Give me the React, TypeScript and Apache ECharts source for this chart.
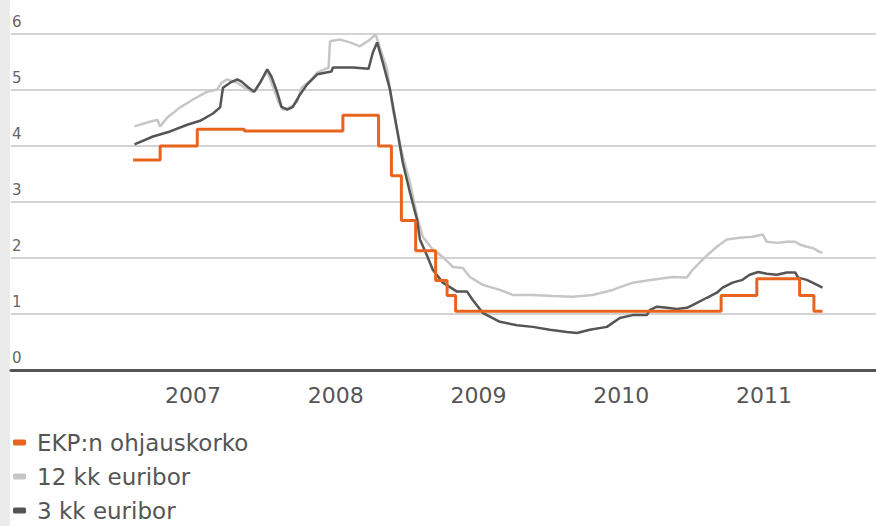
import React, { useEffect, useRef } from "react";
import * as echarts from "echarts";

// Year labels (placed at mid-year)
const years = [2007, 2008, 2009, 2010, 2011];

// ECB policy rate (step changes: date as decimal year, value %)
const ecbDates = [2007.08, 2007.27, 2007.53, 2007.86, 2008.55, 2008.8, 2008.89, 2008.96, 2009.06, 2009.2, 2009.28, 2009.34, 2011.2, 2011.45, 2011.75, 2011.85, 2011.91];
const ecbRates = [3.75, 4.0, 4.3, 4.27, 4.55, 4.0, 3.47, 2.67, 2.13, 1.6, 1.33, 1.05, 1.33, 1.63, 1.33, 1.05, 1.05];

// 12-month euribor
const e12Dates = [2007.09, 2007.18, 2007.25, 2007.27, 2007.32, 2007.41, 2007.5, 2007.6, 2007.67, 2007.7, 2007.74, 2007.81, 2007.88, 2007.92, 2007.97, 2008.02, 2008.06, 2008.1, 2008.13, 2008.18, 2008.23, 2008.26, 2008.33, 2008.37, 2008.45, 2008.46, 2008.53, 2008.6, 2008.67, 2008.74, 2008.78, 2008.86, 2008.9, 2008.97, 2009.02, 2009.07, 2009.11, 2009.18, 2009.25, 2009.32, 2009.39, 2009.44, 2009.53, 2009.65, 2009.74, 2009.88, 2010.02, 2010.16, 2010.3, 2010.44, 2010.58, 2010.72, 2010.86, 2010.96, 2011.0, 2011.07, 2011.12, 2011.17, 2011.24, 2011.33, 2011.42, 2011.49, 2011.52, 2011.59, 2011.66, 2011.72, 2011.75, 2011.8, 2011.84, 2011.89, 2011.91];
const e12Rates = [4.35, 4.42, 4.47, 4.35, 4.51, 4.69, 4.83, 4.97, 5.01, 5.13, 5.19, 5.13, 5.01, 4.96, 5.13, 5.33, 5.06, 4.78, 4.65, 4.69, 4.79, 5.04, 5.19, 5.31, 5.4, 5.87, 5.9, 5.85, 5.78, 5.9, 5.99, 5.37, 4.65, 3.81, 3.35, 2.74, 2.38, 2.15, 2.02, 1.84, 1.82, 1.66, 1.52, 1.43, 1.34, 1.34, 1.32, 1.31, 1.34, 1.43, 1.56, 1.61, 1.66, 1.65, 1.79, 1.97, 2.09, 2.2, 2.33, 2.36, 2.38, 2.42, 2.29, 2.27, 2.29, 2.29, 2.24, 2.2, 2.18, 2.11, 2.09];

// 3-month euribor
const e3Dates = [2007.09, 2007.22, 2007.34, 2007.46, 2007.55, 2007.64, 2007.69, 2007.71, 2007.76, 2007.81, 2007.84, 2007.89, 2007.93, 2007.97, 2008.02, 2008.05, 2008.09, 2008.12, 2008.16, 2008.2, 2008.25, 2008.3, 2008.37, 2008.47, 2008.48, 2008.62, 2008.73, 2008.76, 2008.79, 2008.83, 2008.88, 2008.93, 2008.97, 2009.02, 2009.07, 2009.09, 2009.14, 2009.18, 2009.25, 2009.35, 2009.42, 2009.46, 2009.53, 2009.65, 2009.77, 2009.88, 2010.0, 2010.12, 2010.19, 2010.28, 2010.4, 2010.49, 2010.58, 2010.68, 2010.7, 2010.75, 2010.82, 2010.89, 2010.96, 2011.0, 2011.1, 2011.17, 2011.21, 2011.28, 2011.35, 2011.4, 2011.46, 2011.52, 2011.59, 2011.66, 2011.72, 2011.74, 2011.8, 2011.84, 2011.91];
const e3Rates = [4.03, 4.17, 4.26, 4.38, 4.45, 4.58, 4.69, 5.04, 5.13, 5.19, 5.15, 5.04, 4.97, 5.13, 5.37, 5.24, 4.96, 4.7, 4.65, 4.7, 4.92, 5.1, 5.28, 5.33, 5.4, 5.4, 5.38, 5.67, 5.85, 5.49, 5.01, 4.29, 3.7, 3.17, 2.68, 2.33, 2.04, 1.79, 1.56, 1.4, 1.4, 1.25, 1.02, 0.86, 0.8, 0.77, 0.72, 0.68, 0.66, 0.72, 0.77, 0.93, 0.98, 0.98, 1.07, 1.13, 1.11, 1.09, 1.11, 1.16, 1.29, 1.38, 1.47, 1.56, 1.61, 1.7, 1.75, 1.72, 1.7, 1.74, 1.74, 1.65, 1.61, 1.56, 1.47];

const seriesNames = ["EKP:n ohjauskorko", "12 kk euribor", "3 kk euribor"];

const zip = (xs: number[], ys: number[]) => xs.map((x, i) => [x, ys[i]]);

const FONT = "DejaVu Sans";

export default function App() {
  const ref = useRef<HTMLDivElement>(null);
  useEffect(() => {
    document.body.style.margin = "0";
    if (!ref.current) return;
    const chart = echarts.init(ref.current, null, { renderer: "svg" });
    chart.setOption({
      animation: false,
      backgroundColor: "#ffffff",
      graphic: [
        {
          type: "rect",
          left: 0,
          top: 0,
          shape: { width: 10, height: 526 },
          style: { fill: "#ebebeb" },
          z: -10,
        },
      ],
      grid: { left: 11, right: 0, top: 34, bottom: 156, containLabel: false },
      legend: {
        orient: "vertical",
        left: 13,
        top: 431,
        height: 160,
        padding: 0,
        itemWidth: 13,
        itemHeight: 6,
        itemGap: 11,
        icon: "roundRect",
        data: seriesNames,
        textStyle: {
          fontFamily: FONT,
          fontSize: 23,
          lineHeight: 22,
          color: "#555555",
          padding: [0, 0, 0, 6],
        },
      },
      xAxis: {
        type: "value",
        min: 2006.225,
        max: 2012.285,
        axisLine: { show: true, onZero: false, lineStyle: { color: "#555555", width: 3 } },
        axisTick: { show: false },
        splitLine: { show: false },
        axisLabel: {
          customValues: years.map((y) => y + 0.5),
          formatter: (v: number) => String(Math.floor(v)),
          fontFamily: FONT,
          fontSize: 22,
          color: "#555555",
          margin: 14,
        },
      },
      yAxis: {
        type: "value",
        min: 0,
        max: 6,
        interval: 1,
        axisLine: { show: false },
        axisTick: { show: false },
        splitLine: { show: true, lineStyle: { color: "#d3d3d3", width: 2 } },
        axisLabel: {
          inside: true,
          margin: 1,
          align: "left",
          verticalAlign: "bottom",
          padding: [0, 0, 5, 0],
          fontFamily: FONT,
          fontSize: 15,
          color: "#666666",
        },
      },
      series: [
        {
          name: seriesNames[0],
          type: "line",
          step: "end",
          data: zip(ecbDates, ecbRates),
          showSymbol: false,
          color: "#e8641e",
          lineStyle: { width: 3, color: "#e8641e" },
          z: 4,
        },
        {
          name: seriesNames[1],
          type: "line",
          data: zip(e12Dates, e12Rates),
          showSymbol: false,
          color: "#c6c6c6",
          lineStyle: { width: 2.5, color: "#c6c6c6" },
          z: 2,
        },
        {
          name: seriesNames[2],
          type: "line",
          data: zip(e3Dates, e3Rates),
          showSymbol: false,
          color: "#555555",
          lineStyle: { width: 2.5, color: "#555555" },
          z: 3,
        },
      ],
    });
    return () => chart.dispose();
  }, []);
  return <div ref={ref} style={{ width: 876, height: 526 }} />;
}
